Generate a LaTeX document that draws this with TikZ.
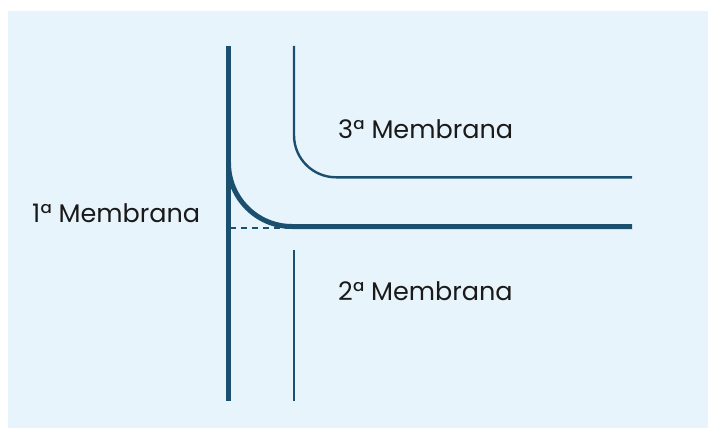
\documentclass[tikz,border=0pt]{standalone}
\usepackage{fontspec}
\setmainfont{Poppins}
\definecolor{bg}{HTML}{E8F4FC}
\definecolor{mem}{HTML}{1B4F6E}
\definecolor{txt}{HTML}{1A1A1A}
\tikzset{
  thickmem/.style={draw=mem, line width=5pt},
  thinmem/.style={draw=mem, line width=2.4pt},
  dashmem/.style={draw=mem, line width=2pt, dash pattern=on 6pt off 5pt},
  lbl/.style={text=txt, font=\fontsize{25.5}{30}\selectfont, inner sep=0pt, anchor=base west}
}
\begin{document}
\begin{tikzpicture}[x=1pt,y=-1pt]
\useasboundingbox (0,0) rectangle (708,428);
\fill[bg] (8,11) rectangle (708,428);
% coordinates
\coordinate (v1top) at (228.5,46);
\coordinate (v1bot) at (228.5,401);
\coordinate (c1start) at (228.5,163);
\coordinate (c1end) at (292,226.5);
\coordinate (h1end) at (632,226.5);
\coordinate (v3top) at (294,46);
\coordinate (h3end) at (632,177.3);
\coordinate (v2top) at (294,250);
\coordinate (v2bot) at (294,401);
\coordinate (dstart) at (230,227.7);
\coordinate (dend) at (286,227.7);
% 1a membrana
\draw[thickmem] (v1top) -- (v1bot);
\draw[thickmem] (c1start) .. controls (228.5,198) and (257,226.5) .. (c1end) -- (h1end);
\draw[dashmem] (dstart) -- (dend);
% 3a membrana
\draw[thinmem, rounded corners=42pt] (v3top) |- (h3end);
% 2a membrana
\draw[thinmem] (v2top) -- (v2bot);
% labels
\node[lbl] (l3) at (338,138) {3ª Membrana};
\node[lbl] (l1) at (32,222) {1ª Membrana};
\node[lbl] (l2) at (338,300) {2ª Membrana};
\end{tikzpicture}
\end{document}
